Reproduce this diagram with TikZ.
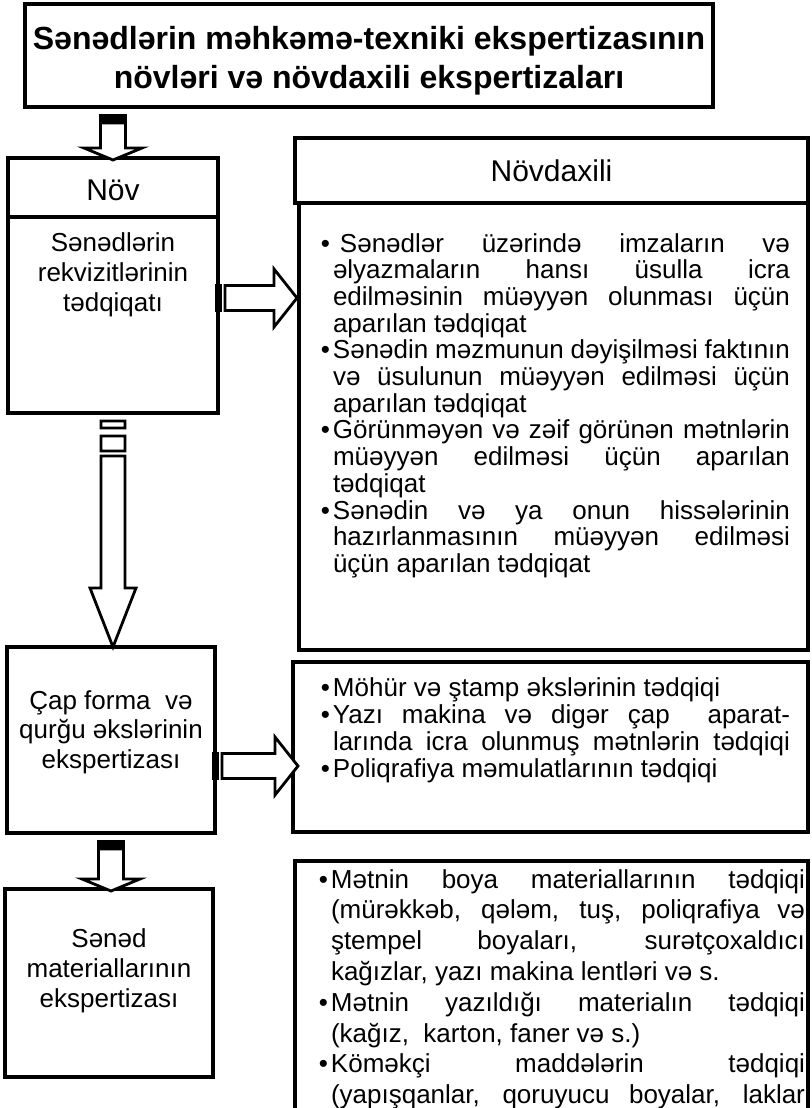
\documentclass[tikz,border=0pt]{standalone}
\usepackage{fontspec}
\setmainfont{Liberation Sans}
\usetikzlibrary{calc}
\newlength\linew
\newcommand\justl[1]{\hbox to \linew{#1}}
\newcommand\lastl[1]{\hbox to \linew{#1\hfil}}
\newcommand\bul{\llap{•\hspace{3pt}}}
\newcommand\listtext[3]{\vtop{\setlength\linew{#1}\fontsize{26}{#2}\selectfont\lineskiplimit=-100pt\relax #3}}
\tikzset{
  box/.style={draw, line width=3.5pt, inner sep=0pt, outer sep=0pt, anchor=north west},
  arrowline/.style={draw, line width=2.8pt, fill=white, line join=miter},
  txt/.style={inner sep=0pt, outer sep=0pt},
}
% down arrow with solid striped tail: #1 source point, #2 target point (tip)
\newcommand\downarrowS[2]{%
  \path[arrowline] let \p1=(#1), \p2=(#2) in
    (\x2-12.5pt,\y1-16pt) -- (\x2-12.5pt,\y2+10pt) -- (\x2-29pt,\y2+10pt) -- (\x2,\y2-2pt)
    -- (\x2+29pt,\y2+10pt) -- (\x2+12.5pt,\y2+10pt) -- (\x2+12.5pt,\y1-16pt) -- cycle;
  \fill let \p1=(#1), \p2=(#2) in (\x2-13.9pt,\y1-6.5pt) rectangle (\x2+13.9pt,\y1-16pt);
}
% long down arrow with hollow stripes
\newcommand\downarrowL[2]{%
  \path[arrowline] let \p1=(#1), \p2=(#2) in
    (\x1-12pt,\y1-8pt) rectangle (\x1+12pt,\y1-15pt)
    (\x1-12pt,\y1-23pt) rectangle (\x1+12pt,\y1-38pt)
    (\x1-12pt,\y1-43pt) -- (\x1-12pt,\y2+59pt) -- (\x1-23pt,\y2+59pt) -- (\x1,\y2)
    -- (\x1+23pt,\y2+59pt) -- (\x1+12pt,\y2+59pt) -- (\x1+12pt,\y1-43pt) -- cycle;
}
% right arrow with striped tail: #1 start, #2 target, #3 tip offset
\newcommand\rightarrowS[3]{%
  \path[arrowline] let \p1=(#1), \p2=(#2) in
    (\x1+7pt,\y1+12.5pt) -- (\x2+#3pt-23pt,\y1+12.5pt) -- (\x2+#3pt-23pt,\y1+29pt) -- (\x2+#3pt,\y1)
    -- (\x2+#3pt-23pt,\y1-29pt) -- (\x2+#3pt-23pt,\y1-12.5pt) -- (\x1+7pt,\y1-12.5pt) -- cycle;
  \fill let \p1=(#1) in (\x1-3pt,\y1-13.9pt) rectangle (\x1+4.4pt,\y1+13.9pt);
}
\begin{document}
\begin{tikzpicture}[x=1pt,y=-1pt]
\useasboundingbox (0,0) rectangle (811,1108);
% boxes
\node[box, minimum width=688pt, minimum height=103pt] (title) at (25,4) {};
\node[box, minimum width=210pt, minimum height=59pt] (novhead) at (8,158) {};
\node[box, minimum width=210pt, minimum height=196pt] (nov) at (8,217) {};
\node[box, minimum width=513pt, minimum height=65pt] (novdhead) at (295,138) {};
\node[box, minimum width=509pt, minimum height=447pt] (list1) at (299,203) {};
\node[box, minimum width=208pt, minimum height=186pt] (cap) at (7,647) {};
\node[box, minimum width=515pt, minimum height=170pt] (list2) at (293,662) {};
\node[box, minimum width=208pt, minimum height=188pt] (sened) at (5,889) {};
\node[box, minimum width=513pt, minimum height=280pt] (list3) at (295,861) {};
% texts
\node[txt, anchor=base] (titletxt) at (369,50) {\parbox[t]{700pt}{\centering\fontsize{32}{39}\selectfont\bfseries Sənədlərin məhkəmə-texniki ekspertizasının\\növləri və növdaxili ekspertizaları}};
\node[txt, anchor=base] (novtxt) at (113,200) {\fontsize{30}{36}\selectfont Növ};
\node[txt, anchor=base] (novdtxt) at (551.5,181) {\fontsize{30}{36}\selectfont Növdaxili};
\node[txt, anchor=base] (novbody) at (113,251) {\parbox[t]{205pt}{\centering\fontsize{26}{30}\selectfont Sənədlərin\\rekvizitlərinin\\tədqiqatı}};
\node[txt, anchor=base] (captxt) at (111,709) {\parbox[t]{205pt}{\centering\fontsize{26}{29.5}\selectfont Çap forma\ \ və\\qurğu əkslərinin\\ekspertizası}};
\node[txt, anchor=base] (senedtxt) at (109,947) {\parbox[t]{205pt}{\centering\fontsize{26}{30}\selectfont Sənəd\\materiallarının\\ekspertizası}};
\node[txt, anchor=base west] (l1txt) at (333,252) {\listtext{457pt}{26.7}{%
  \justl{\bul\hspace{7pt}Sənədlər üzərində imzaların və}
  \justl{əlyazmaların hansı üsulla icra}
  \justl{edilməsinin müəyyən olunması üçün}
  \lastl{aparılan tədqiqat}
  \justl{\bul Sənədin məzmunun dəyişilməsi faktının}
  \justl{və üsulunun müəyyən edilməsi üçün}
  \lastl{aparılan tədqiqat}
  \justl{\bul Görünməyən və zəif görünən mətnlərin}
  \justl{müəyyən edilməsi üçün aparılan}
  \lastl{tədqiqat}
  \justl{\bul Sənədin və ya onun hissələrinin}
  \justl{hazırlanmasının müəyyən edilməsi}
  \lastl{üçün aparılan tədqiqat}}};
\node[txt, anchor=base west] (l2txt) at (333,696) {\listtext{457pt}{27}{%
  \lastl{\bul Möhür və ştamp əkslərinin tədqiqi}
  \justl{\bul Yazı makina və digər çap\ \ aparat-}
  \justl{larında icra olunmuş mətnlərin tədqiqi}
  \lastl{\bul Poliqrafiya məmulatlarının tədqiqi}}};
\node[txt, anchor=base west] (l3txt) at (331,888) {\listtext{474pt}{30.8}{%
  \justl{\bul Mətnin boya materiallarının tədqiqi}
  \justl{(mürəkkəb, qələm, tuş, poliqrafiya və}
  \justl{ştempel boyaları, surətçoxaldıcı}
  \lastl{kağızlar, yazı makina lentləri və s.}
  \justl{\bul Mətnin yazıldığı materialın tədqiqi}
  \lastl{(kağız,\ \ karton, faner və s.)}
  \justl{\bul Köməkçi maddələrin tədqiqi}
  \justl{(yapışqanlar, qoruyucu boyalar, laklar}}};
% connectors
\coordinate (a1s) at ($(nov.east)+(0,-17)$);
\coordinate (a1t) at (a1s -| list1.west);
\coordinate (a2s) at ($(cap.east)+(0,26)$);
\coordinate (a2t) at (a2s -| list2.west);
\downarrowS{title.south -| novhead.north}{novhead.north}
\rightarrowS{a1s}{a1t}{-2}
\downarrowL{nov.south}{nov.south |- cap.north}
\rightarrowS{a2s}{a2t}{5}
\downarrowS{cap.south}{cap.south |- sened.north}
\end{tikzpicture}
\end{document}
